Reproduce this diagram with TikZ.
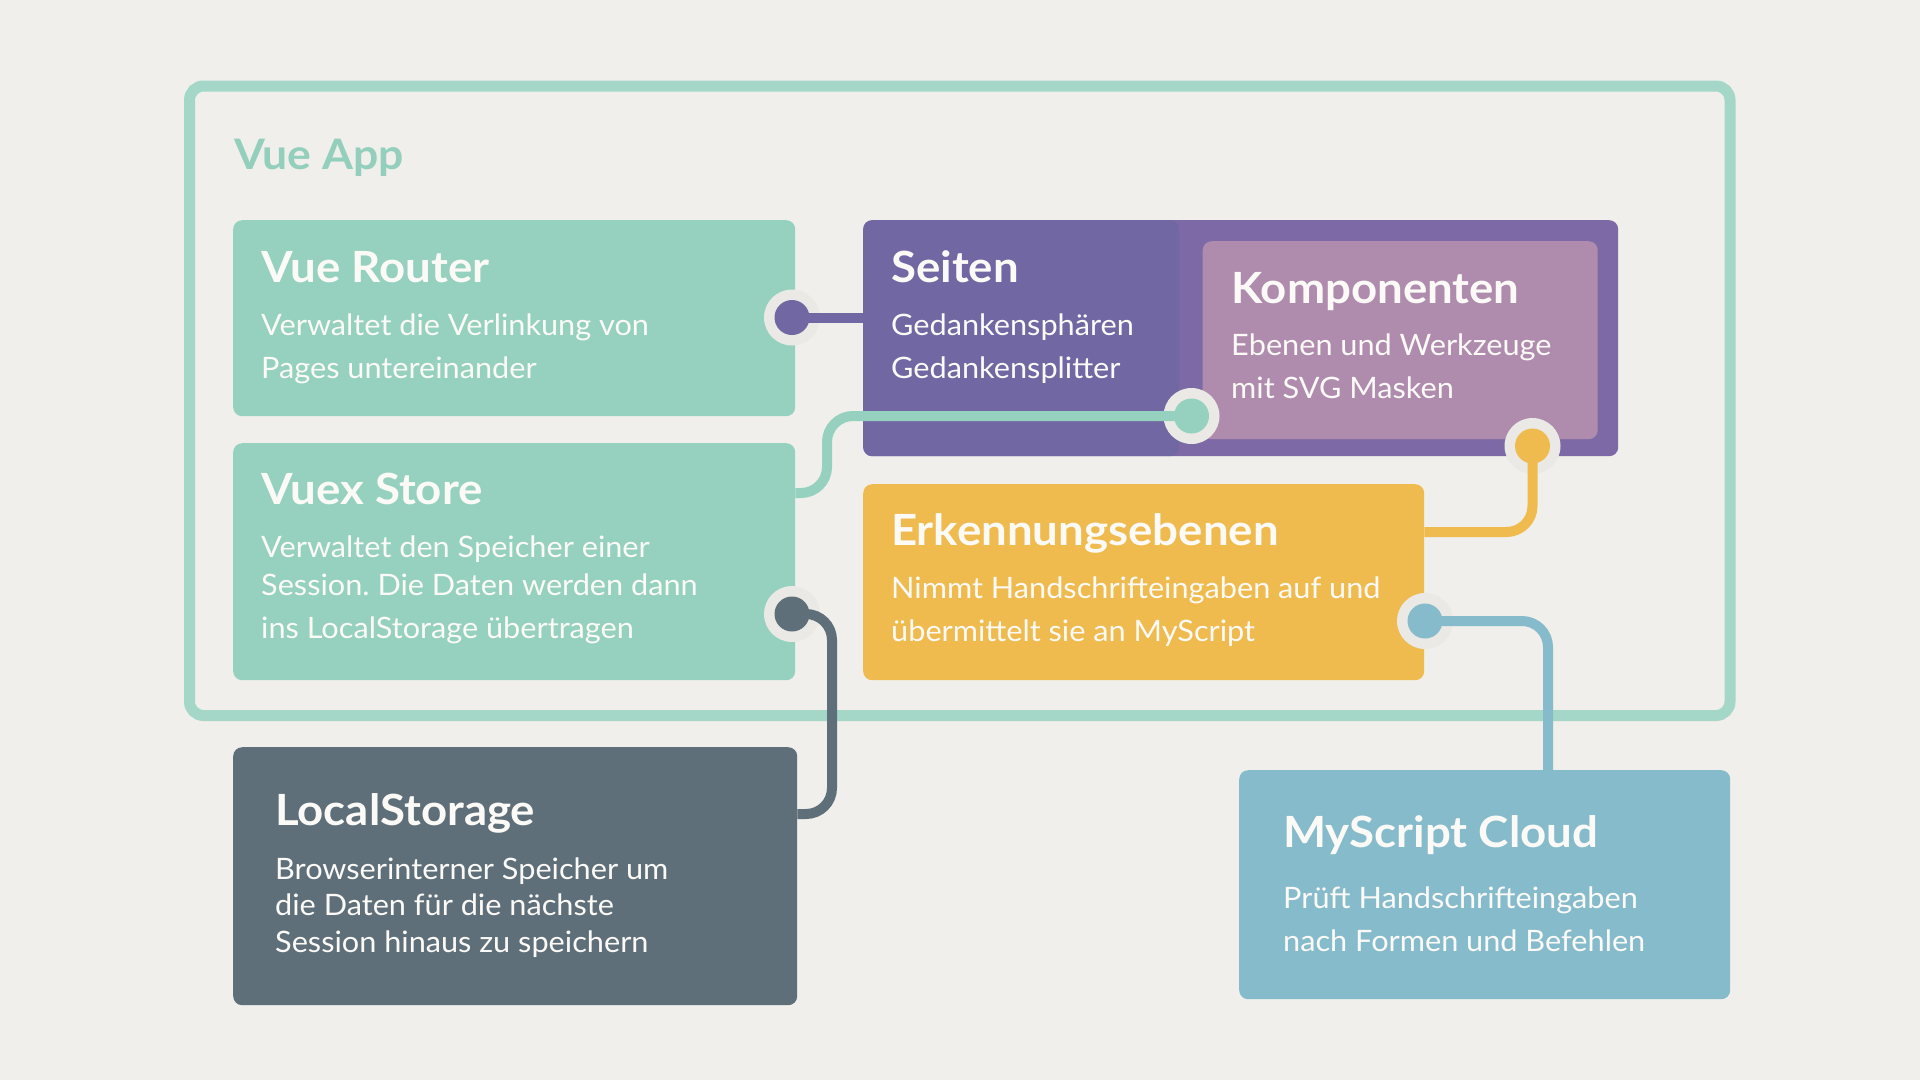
\documentclass[tikz,border=0pt]{standalone}
\usepackage{fontspec}
\setmainfont{Lato}[FakeStretch=1.04, BoldFeatures={FakeStretch=1.06}]
\usetikzlibrary{calc}
\frenchspacing
\definecolor{bg}{HTML}{F0EFEB}
\definecolor{framec}{HTML}{A4D7C7}
\definecolor{tealbox}{HTML}{95D1BE}
\definecolor{appc}{HTML}{93CFBC}
\definecolor{purpleo}{HTML}{7C69A5}
\definecolor{seitenc}{HTML}{7067A3}
\definecolor{kompc}{HTML}{AF8BAD}
\definecolor{yellowc}{HTML}{F0BB4E}
\definecolor{slatec}{HTML}{5F6F79}
\definecolor{bluec}{HTML}{86BBCB}
\definecolor{ringc}{HTML}{EAE9E5}
\definecolor{txt}{HTML}{FBFAF7}
\begin{document}
\begin{tikzpicture}[x=1pt,y=-1pt,
  box/.style={rectangle, rounded corners=9pt, draw=none, inner sep=0, anchor=north west},
  title/.style={font=\fontsize{43}{43}\selectfont\bfseries, text=txt, inner sep=0, anchor=base west},
  body/.style={font=\fontsize{29.5}{29.5}\selectfont, text=txt, inner sep=0, anchor=base west},
  ring/.style={circle, fill=ringc, minimum size=56pt, inner sep=0},
  dot/.style={circle, minimum size=35pt, inner sep=0},
  conn/.style={line width=10pt, rounded corners=26pt}]
\useasboundingbox (0,0) rectangle (1920,1080);
\fill[bg] (0,0) rectangle (1920,1080);
% outer frame
\draw[framec, line width=11pt, rounded corners=14pt] (189.5,86) rectangle (1730,715.5);
\node[font=\fontsize{42}{42}\selectfont\bfseries, text=appc, inner sep=0, anchor=base west] (app) at (234,169) {Vue App};
% boxes
\node[box, fill=tealbox, minimum width=562pt, minimum height=196pt] (router) at (233,220) {};
\node[box, fill=tealbox, minimum width=562pt, minimum height=237pt] (vuex) at (233,443) {};
\node[box, fill=purpleo, minimum width=755pt, minimum height=236pt] (outer) at (863,220) {};
\node[box, fill=seitenc, minimum width=316pt, minimum height=236pt] (seiten) at (863,220) {};
\fill[purpleo] (1190,220) rectangle (1210,456);
\node[box, fill=kompc, minimum width=395pt, minimum height=198pt] (komp) at (1202.5,241) {};
\node[box, fill=yellowc, minimum width=561pt, minimum height=196pt] (erk) at (863,484) {};
\node[box, fill=slatec, minimum width=564pt, minimum height=258pt] (local) at (233,747) {};
\node[box, fill=bluec, minimum width=491pt, minimum height=229pt] (cloud) at (1239,770) {};
% texts
\node[title] (routerT) at (261,282) {Vue Router};
\node[body] (routerB1) at (261,335) {Verwaltet die Verlinkung von};
\node[body] (routerB2) at (261,378) {Pages untereinander};
\node[title] (seitenT) at (891,282) {Seiten};
\node[body] (seitenB1) at (891,335) {Gedankensphären};
\node[body] (seitenB2) at (891,378) {Gedankensplitter};
\node[title] (kompT) at (1231,303) {Komponenten};
\node[body] (kompB1) at (1231,355) {Ebenen und Werkzeuge};
\node[body] (kompB2) at (1231,398) {mit SVG Masken};
\node[title] (vuexT) at (261,504) {Vuex Store};
\node[body] (vuexB1) at (261,557) {Verwaltet den Speicher einer};
\node[body] (vuexB2) at (261,595) {Session. Die Daten werden dann};
\node[body] (vuexB3) at (261,638) {ins LocalStorage übertragen};
\node[title] (erkT) at (891,545) {Erkennungsebenen};
\node[body] (erkB1) at (891,598.5) {Nimmt Handschrifteingaben auf und};
\node[body] (erkB2) at (891,641.5) {übermittelt sie an MyScript};
\node[title] (localT) at (275,825) {LocalStorage};
\node[body] (localB1) at (275,879) {Browserinterner Speicher um};
\node[body] (localB2) at (275,915.5) {die Daten für die nächste};
\node[body] (localB3) at (275,952) {Session hinaus zu speichern};
\node[title] (cloudT) at (1283,847.5) {MyScript Cloud};
\node[body] (cloudB1) at (1283,908.5) {Prüft Handschrifteingaben};
\node[body] (cloudB2) at (1283,951) {nach Formen und Befehlen};
% rings
\node[ring] (rdr) at (792,317.5) {};
\node[ring] (sdr) at (1191.5,416) {};
\node[ring] (vdr) at (792,614) {};
\node[ring] (kdr) at (1532.5,446) {};
\node[ring] (edr) at (1425,621) {};
% bend coordinates
\coordinate (b1) at (827,493);
\coordinate (b2) at (832,814);
\coordinate (b3) at (1532.5,532);
\coordinate (b4) at (1548,621);
% connectors
\draw[conn, seitenc] (rdr.center) -- (rdr.center -| seiten.west);
\draw[conn, tealbox] (sdr.center) -| (b1) -- (b1 -| vuex.east);
\draw[conn, slatec] (vdr.center) -| (b2) -- (b2 -| local.east);
\draw[conn, yellowc] (kdr.center) -- (b3) -- (b3 -| erk.east);
\draw[conn, bluec] (edr.center) -- (b4) -- (b4 |- cloud.north);
% dots
\node[dot, fill=seitenc] (rd) at (rdr) {};
\node[dot, fill=tealbox] (sd) at (sdr) {};
\node[dot, fill=slatec] (vd) at (vdr) {};
\node[dot, fill=yellowc] (kd) at (kdr) {};
\node[dot, fill=bluec] (ed) at (edr) {};
\end{tikzpicture}
\end{document}
